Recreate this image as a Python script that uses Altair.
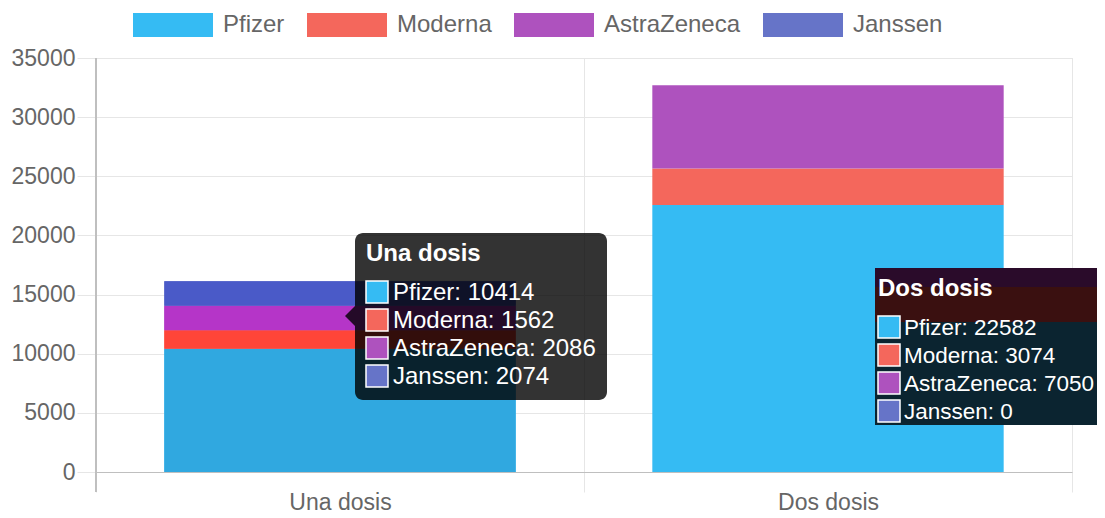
import altair as alt
import pandas as pd

# ---------------- data ----------------
categories = ["Una dosis", "Dos dosis"]
vaccines = ["Pfizer", "Moderna", "AstraZeneca", "Janssen"]
pfizer = [10414, 22582]
moderna = [1562, 3074]
astrazeneca = [2086, 7050]
janssen = [2074, 0]
colors = ["#35bbf3", "#f4675c", "#ae52be", "#6674c8"]
hover_colors = ["#30a8e0", "#ff4538", "#b535c8", "#4a5ac8"]
hovered = "Una dosis"
y_ticks = [0, 5000, 10000, 15000, 20000, 25000, 30000, 35000]

series = {"Pfizer": pfizer, "Moderna": moderna, "AstraZeneca": astrazeneca, "Janssen": janssen}

rows = []
for ci, cat in enumerate(categories):
    for vi, v in enumerate(vaccines):
        rows.append(dict(cat=cat, vac=v, val=series[v][ci], order=vi,
                         color=colors[vi], hover=hover_colors[vi]))
bars_df = pd.DataFrame(rows)

# ---------------- layout / style ----------------
W, H = 976, 414
FONT = "Liberation Sans"
GRID = "#e6e6e6"
ZERO = "#bfbfbf"
TXT = "#666666"

xscale = alt.Scale(domain=categories, paddingInner=0, paddingOuter=0)
yscale = alt.Scale(domain=[0, 35000], nice=False)

x_axis = alt.Axis(title=None, labelAngle=0, tickBand="extent", grid=True, gridColor=GRID,
                  tickColor=GRID, tickSize=20, domainColor=ZERO, labelFontSize=23,
                  labelColor=TXT, labelFont=FONT, labelPadding=-1)
y_axis = alt.Axis(title=None, values=y_ticks, format="d", grid=True, gridColor=GRID,
                  tickColor=GRID, tickSize=19, domainColor=ZERO, labelFontSize=23,
                  labelColor=TXT, labelFont=FONT, labelPadding=2)

legend = alt.Legend(title=None, orient="none", legendX=37, legendY=-73, direction="horizontal",
                    symbolType="M-1,-0.3H1V0.3H-1Z", symbolSize=6400, symbolStrokeWidth=0,
                    symbolOpacity=1, labelFontSize=24, labelColor=TXT, labelFont=FONT,
                    labelOffset=10, columnPadding=22, padding=0)

order = alt.Order("order:Q", sort="ascending")
x_enc = alt.X("cat:N", sort=categories, scale=xscale, axis=x_axis)
y_enc = alt.Y("val:Q", stack="zero", scale=yscale, axis=y_axis)

bars = alt.Chart(bars_df).mark_bar(width=alt.RelativeBandSize(0.72)).encode(
    x=x_enc, y=y_enc,
    color=alt.Color("vac:N", scale=alt.Scale(domain=vaccines, range=colors), legend=legend),
    order=order,
)

hover_bars = alt.Chart(bars_df).transform_filter(alt.datum.cat == hovered).mark_bar(
    width=alt.RelativeBandSize(0.72)).encode(
    x=x_enc, y=y_enc,
    color=alt.Color("hover:N", scale=None),
    order=order,
)

bar_layer = alt.layer(bars, hover_bars)

left_line = alt.Chart(bars_df).mark_rule(color=ZERO, strokeWidth=1).encode(
    x=alt.value(0), y=alt.value(0), y2=alt.value(H + 20))

# ---------------- tooltips ----------------
# (category, left, top, width, height, inner x padding, item font size, text gap)
tt_specs = [("Una dosis", 259, 175, 252, 167, 11, 24, 27),
            ("Dos dosis", 779, 210, 240, 157, 3, 22.5, 26)]
title_rows, item_rows, box_rows = [], [], []
for cat, x0, y0, w, h, px, fs, gap in tt_specs:
    ci = categories.index(cat)
    title_rows.append(dict(px=x0 + px, py=y0 + 21, label=cat))
    for vi, v in enumerate(vaccines):
        cy = y0 + 59 + 28 * vi
        item_rows.append(dict(px=x0 + px + gap, py=cy + 1, fs=fs,
                              label=f"{v}: {series[v][ci]}"))
        box_rows.append(dict(x=x0 + px, x2=x0 + px + 22, y=cy - 11, y2=cy + 11, color=colors[vi]))

titles_df = pd.DataFrame(title_rows)
items_df = pd.DataFrame(item_rows)
boxes_df = pd.DataFrame(box_rows)

x0, y0, w, h = tt_specs[0][1:5]
tt1_bg = alt.Chart(pd.DataFrame([dict(x=x0, x2=x0 + w, y=y0, y2=y0 + h)])).mark_rect(
    color="#000000", opacity=0.8, cornerRadius=8).encode(
    x=alt.X("x:Q", scale=None), x2="x2:Q", y=alt.Y("y:Q", scale=None), y2="y2:Q")
tt1_caret = alt.Chart(pd.DataFrame([dict(x=x0 - 10, y=y0 + 83)])).mark_point(
    shape="M1,-1L0,0L1,1Z", size=400, filled=True, color="#000000", opacity=0.8,
    strokeWidth=0).encode(x=alt.X("x:Q", scale=None), y=alt.Y("y:Q", scale=None))

x0, y0, w, h = tt_specs[1][1:5]
band_df = pd.DataFrame([
    dict(x=x0, x2=x0 + w, y=y0, y2=y0 + 19, fill="#2a0b2a"),
    dict(x=x0, x2=x0 + w, y=y0 + 19, y2=y0 + 54, fill="#3a1010"),
    dict(x=x0, x2=x0 + w, y=y0 + 54, y2=y0 + h, fill="#0b2430"),
])
tt2_bg = alt.Chart(band_df).mark_rect().encode(
    x=alt.X("x:Q", scale=None), x2="x2:Q", y=alt.Y("y:Q", scale=None), y2="y2:Q",
    color=alt.Color("fill:N", scale=None))

tt_boxes = alt.Chart(boxes_df).mark_rect(stroke="#ffffff", strokeWidth=1.5).encode(
    x=alt.X("x:Q", scale=None), x2="x2:Q", y=alt.Y("y:Q", scale=None), y2="y2:Q",
    color=alt.Color("color:N", scale=None))

tt_titles = alt.Chart(titles_df).mark_text(
    align="left", baseline="middle", font=FONT, fontSize=24, fontWeight="bold",
    color="#ffffff").encode(x=alt.X("px:Q", scale=None), y=alt.Y("py:Q", scale=None),
                            text="label:N")
tt_items = alt.Chart(items_df).mark_text(
    align="left", baseline="middle", font=FONT, color="#ffffff").encode(
    x=alt.X("px:Q", scale=None), y=alt.Y("py:Q", scale=None), text="label:N",
    size=alt.Size("fs:Q", scale=None, legend=None))

overlay = alt.layer(left_line, tt1_bg, tt1_caret, tt2_bg, tt_boxes, tt_titles, tt_items)

chart = alt.layer(bar_layer, overlay).resolve_scale(
    x="independent", y="independent", color="independent"
).properties(
    width=W, height=H,
    autosize=alt.AutoSizeParams(type="none"),
    padding={"left": 88, "top": 50, "right": 25, "bottom": 44},
).configure_view(stroke=None).configure(background="white")

chart.save("out.html", embed_options={"renderer": "svg", "actions": False})
